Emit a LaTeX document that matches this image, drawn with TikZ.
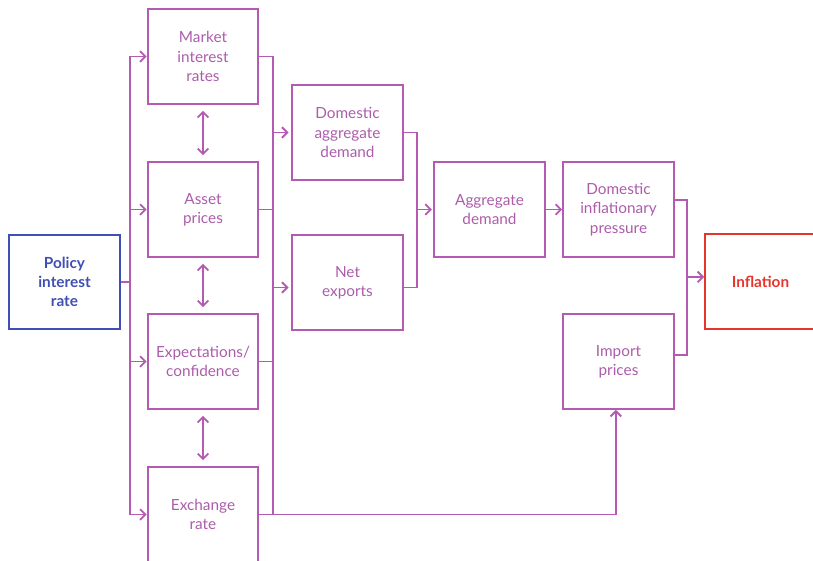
\documentclass[tikz,border=0pt]{standalone}
\usepackage{fontspec}
\setmainfont{Lato}
\usetikzlibrary{arrows.meta}
\definecolor{plum}{HTML}{B45AB0}
\definecolor{plumtext}{HTML}{AC5CAA}
\definecolor{polblue}{HTML}{3F4FB3}
\definecolor{infred}{HTML}{E8352B}
\begin{document}
\begin{tikzpicture}[x=0.75pt,y=-0.75pt,
  boxfont/.style={font=\fontsize{11.5}{14.4}\selectfont},
  box/.style={draw=plum, line width=1.4pt, text=plumtext, minimum width=83pt, minimum height=71pt,
    align=center, inner sep=2pt, boxfont},
  conn/.style={draw=plum, line width=1.4pt},
  arr/.style={conn, -{Straight Barb[length=4pt,width=8pt]}},
  dbl/.style={conn, {Straight Barb[length=4pt,width=8pt]}-{Straight Barb[length=4pt,width=8pt]},
    shorten <=4.5pt, shorten >=4.5pt}]
\useasboundingbox (0,0) rectangle (813,560);
\clip (0,0) rectangle (813,560);
% nodes
\node[box, draw=polblue, text=polblue, font=\fontsize{11.5}{14.4}\selectfont\bfseries] (pol) at (64.5,282) {Policy\\interest\\rate};
\node[box] (mir) at (203,56.5) {Market\\interest\\rates};
\node[box] (ap) at (203,209.5) {Asset\\prices};
\node[box] (ec) at (203,361.5) {Expectations/\\confidence};
\node[box] (ex) at (203,514.5) {Exchange\\rate};
\node[box] (dad) at (347.5,132.5) {Domestic\\aggregate\\demand};
\node[box] (nx) at (347.5,282.5) {Net\\exports};
\node[box] (ad) at (489.5,209.5) {Aggregate\\demand};
\node[box] (dip) at (618.5,209.5) {Domestic\\inflationary\\pressure};
\node[box] (imp) at (618.5,361.5) {Import\\prices};
\node[box, draw=infred, text=infred, font=\fontsize{11.5}{14.4}\selectfont\bfseries] (inf) at (760.5,281.5) {Inflation};
% bus coordinates
\coordinate (b1) at (130,0);
\coordinate (b2) at (273,0);
\coordinate (b3) at (417,0);
\coordinate (b4) at (687,0);
\coordinate (nxin) at ([yshift=-3.75pt]nx.west);
\coordinate (nxout) at ([yshift=-3.75pt]nx.east);
\coordinate (dipout) at ([yshift=7.1pt]dip.east);
\coordinate (impout) at ([yshift=4.9pt]imp.east);
\coordinate (infin) at ([yshift=3.4pt]inf.west);
% policy to transmission channels
\draw[conn] (pol.east) -- (pol.east -| b1);
\draw[conn] (b1 |- mir.west) -- (b1 |- ex.west);
\foreach \n in {mir,ap,ec,ex} \draw[arr] (b1 |- \n.west) -- (\n.west);
% double arrows
\draw[dbl] (mir.south) -- (ap.north);
\draw[dbl] (ap.south) -- (ec.north);
\draw[dbl] (ec.south) -- (ex.north);
% second bus
\draw[conn] (mir.east) -| (b2 |- ex.east);
\draw[conn] (ap.east) -- (ap.east -| b2);
\draw[conn] (ec.east) -- (ec.east -| b2);
\draw[arr] (ex.east) -| ([xshift=-2pt]imp.south);
\draw[arr, shorten >=2pt] (b2 |- dad.west) -- (dad.west);
\draw[arr, shorten >=2pt] (b2 |- nxin) -- (nxin);
% third bus
\draw[conn] (dad.east) -| (b3 |- nxout) -- (nxout);
\draw[arr, shorten >=1pt] (b3 |- ad.west) -- (ad.west);
\draw[arr] (ad.east) -- (dip.west);
% fourth bus
\draw[conn] (dipout) -| (b4 |- impout) -- (impout);
\draw[arr] (b4 |- infin) -- (infin);
\end{tikzpicture}
\end{document}
